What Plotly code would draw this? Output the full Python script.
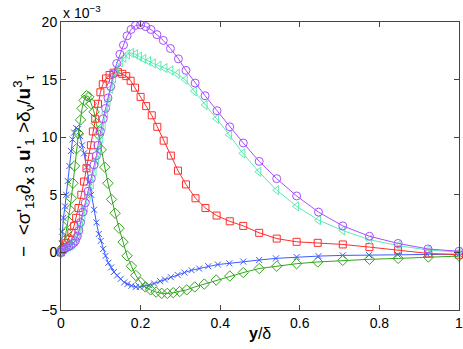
import plotly.graph_objects as go

# ---- data (values in units of 1e-3) ----
blue_x = [0, 0.003, 0.006, 0.01, 0.013, 0.017, 0.021, 0.025, 0.029, 0.033, 0.038, 0.043, 0.048, 0.053,
          0.058, 0.064, 0.07, 0.076, 0.083, 0.089, 0.095, 0.1, 0.106, 0.112, 0.119, 0.126, 0.133, 0.141,
          0.15, 0.159, 0.167, 0.177, 0.188, 0.198, 0.209, 0.221, 0.234, 0.249, 0.261, 0.276, 0.293, 0.31,
          0.328, 0.347, 0.37, 0.394, 0.423, 0.458, 0.498, 0.54, 0.592, 0.647, 0.708, 0.774, 0.846, 0.92, 1.0]
blue_y = [0, 1.8, 3.0, 4.0, 5.0, 6.2, 7.5, 8.8, 9.8, 10.4, 10.8, 10.7, 10.1, 9.3,
          8.6, 7.4, 6.1, 5.0, 3.7, 2.6, 1.6, 1.0, 0.3, -0.3, -0.9, -1.3, -1.7, -2.0,
          -2.3, -2.6, -2.75, -2.9, -3.0, -3.0, -2.95, -2.85, -2.7, -2.5, -2.35, -2.15, -1.95, -1.75,
          -1.55, -1.4, -1.2, -1.05, -0.95, -0.8, -0.66, -0.52, -0.4, -0.32, -0.26, -0.23, -0.2, -0.17, -0.15]

green_x = [0, 0.004, 0.008, 0.013, 0.018, 0.022, 0.026, 0.030, 0.034, 0.039, 0.044, 0.049, 0.053, 0.058,
           0.064, 0.070, 0.076, 0.083, 0.089, 0.095, 0.101, 0.110, 0.118, 0.127, 0.136, 0.146, 0.156,
           0.166, 0.177, 0.188, 0.2, 0.212, 0.225, 0.239, 0.253, 0.267, 0.282, 0.298, 0.316, 0.336, 0.36,
           0.39, 0.424, 0.458, 0.498, 0.542, 0.592, 0.645, 0.708, 0.775, 0.847, 0.923, 1.0]
green_y = [0, 0.4, 1.0, 1.8, 2.7, 3.7, 4.7, 6.0, 7.5, 9.0, 10.3, 11.5, 12.5, 13.2,
           13.6, 13.5, 12.9, 12.2, 11.2, 10.2, 8.9, 7.4, 6.0, 4.6, 3.4, 2.1, 0.9,
           -0.3, -1.2, -2.0, -2.6, -3.0, -3.25, -3.45, -3.55, -3.56, -3.5, -3.4, -3.25, -3.0, -2.75,
           -2.4, -2.05, -1.75, -1.4, -1.2, -0.98, -0.83, -0.69, -0.6, -0.52, -0.4, -0.32]

red_x = [0, 0.004, 0.008, 0.013, 0.019, 0.026, 0.033, 0.038, 0.044, 0.051, 0.058, 0.064, 0.07, 0.075,
         0.08, 0.086, 0.093, 0.099, 0.105, 0.113, 0.122, 0.132, 0.143, 0.154, 0.164, 0.175, 0.186, 0.2,
         0.214, 0.228, 0.242, 0.258, 0.276, 0.294, 0.314, 0.338, 0.363, 0.391, 0.424, 0.458, 0.498,
         0.542, 0.592, 0.645, 0.708, 0.775, 0.847, 0.923, 1.0]
red_y = [0, 0.2, 0.45, 0.8, 1.2, 1.7, 2.3, 3.0, 3.85, 5.0, 6.15, 7.3, 8.3, 9.3,
         10.5, 11.6, 12.9, 13.9, 14.6, 15.1, 15.4, 15.6, 15.65, 15.5, 15.3, 14.9, 14.3, 13.5,
         12.7, 11.9, 10.9, 9.7, 8.4, 7.1, 5.9, 4.7, 3.85, 3.2, 2.7, 2.3, 1.7,
         1.2, 0.92, 0.83, 0.69, 0.46, 0.2, -0.09, -0.2]

cyan_x = [0, 0.003, 0.008, 0.013, 0.019, 0.024, 0.03, 0.036, 0.041, 0.045, 0.049, 0.055, 0.061, 0.068,
          0.076, 0.083, 0.089, 0.094, 0.1, 0.106, 0.112, 0.118, 0.125, 0.132, 0.14, 0.149, 0.158, 0.167,
          0.177, 0.187, 0.197, 0.208, 0.22, 0.232, 0.246, 0.261, 0.276, 0.292, 0.312, 0.335, 0.362,
          0.391, 0.423, 0.457, 0.497, 0.542, 0.592, 0.647, 0.708, 0.775, 0.847, 0.922, 1.0]
cyan_y = [0, 0.15, 0.3, 0.4, 0.5, 0.6, 0.75, 0.95, 1.3, 1.7, 2.3, 3.1, 3.9, 4.8,
          5.9, 7.0, 8.0, 8.9, 9.9, 11.0, 12.1, 13.1, 14.2, 15.1, 15.9, 16.5, 16.9, 17.2,
          17.3, 17.2, 17.0, 16.8, 16.6, 16.4, 16.2, 16.0, 15.8, 15.5, 15.0, 14.0, 12.8,
          11.6, 10.2, 8.6, 7.0, 5.4, 4.0, 2.8, 1.9, 1.1, 0.6, 0.2, 0.03]

purple_x = [0, 0.003, 0.008, 0.013, 0.019, 0.024, 0.03, 0.036, 0.041, 0.045, 0.049, 0.055, 0.061, 0.068,
            0.076, 0.083, 0.089, 0.093, 0.099, 0.106, 0.112, 0.118, 0.125, 0.132, 0.14, 0.148, 0.157,
            0.166, 0.176, 0.187, 0.2, 0.213, 0.226, 0.241, 0.257, 0.275, 0.295, 0.314, 0.337, 0.362,
            0.392, 0.424, 0.458, 0.498, 0.542, 0.592, 0.647, 0.708, 0.775, 0.847, 0.922, 1.0]
purple_y = [0, 0.2, 0.3, 0.4, 0.5, 0.6, 0.78, 1.0, 1.4, 1.9, 2.6, 3.5, 4.3, 5.3,
            6.4, 7.6, 8.4, 9.3, 10.5, 11.6, 12.5, 13.4, 14.4, 15.5, 16.4, 17.2, 18.0,
            18.8, 19.35, 19.7, 19.75, 19.6, 19.35, 18.9, 18.4, 17.7, 16.8, 15.8, 14.7, 13.6,
            12.3, 10.9, 9.5, 7.9, 6.4, 4.9, 3.5, 2.3, 1.4, 0.78, 0.3, 0.1]

x_ticks = [0, 0.2, 0.4, 0.6, 0.8, 1]
x_tick_labels = ["0", "0.2", "0.4", "0.6", "0.8", "1"]
y_ticks = [-5, 0, 5, 10, 15, 20]
y_tick_labels = ["\u22125", "0", "5", "10", "15", "20"]

series = [
    (blue_x, blue_y, "rgb(60,90,255)", "x-thin-open", 6),
    (green_x, green_y, "rgb(50,165,30)", "diamond-open", 8),
    (red_x, red_y, "rgb(255,45,45)", "square-open", 7),
    (cyan_x, cyan_y, "rgb(90,235,180)", "triangle-left-open", 8),
    (purple_x, purple_y, "rgb(165,80,255)", "circle-open", 8),
]

fig = go.Figure()
for xs, ys, col, sym, sz in series:
    fig.add_trace(go.Scatter(
        x=xs, y=ys, mode="lines+markers",
        line=dict(color=col, width=1),
        marker=dict(symbol=sym, size=sz, color=col, line=dict(color=col, width=1)),
        cliponaxis=False, showlegend=False,
    ))

font = "Liberation Sans, Arial, Helvetica, sans-serif"
fig.update_layout(
    width=463, height=349,
    margin=dict(l=61, r=4, t=22, b=39, autoexpand=False),
    paper_bgcolor="white", plot_bgcolor="white",
    font=dict(family=font, size=14, color="black"),
)
fig.update_xaxes(
    range=[0, 1], tickvals=x_ticks, ticktext=x_tick_labels,
    ticks="inside", ticklen=5, tickcolor="#444", showline=True, linecolor="#444", linewidth=1,
    mirror="ticks", showgrid=False, zeroline=False, automargin=False, ticklabeloverflow="allow",
)
fig.update_yaxes(
    range=[-5, 20], tickvals=y_ticks, ticktext=y_tick_labels,
    ticks="inside", ticklen=5, tickcolor="#444", showline=True, linecolor="#444", linewidth=1,
    mirror="ticks", showgrid=False, zeroline=False, automargin=False, ticklabeloverflow="allow",
)
# axis titles placed as annotations
fig.add_annotation(
    x=0.5, y=0, xref="paper", yref="paper", xanchor="center", yanchor="top", yshift=-13,
    text="<b>y</b>/\u03b4", showarrow=False, font=dict(size=16),
)
fig.add_annotation(
    x=0, y=0.5, xref="paper", yref="paper", xanchor="center", yanchor="middle", xshift=-38,
    textangle=-90,
    text="\u2212  &lt;\u03c3'<sub>13</sub>\u2202<sub><b>x</b> 3</sub> <b>u</b>'<sub>1</sub> &gt;\u03b4<sub>\u03bd</sub>/<b>u</b><sup>3</sup><sub>\u03c4</sub>",
    showarrow=False, font=dict(size=19),
)
fig.add_annotation(
    x=0, y=1, xref="paper", yref="paper", xanchor="left", yanchor="bottom",
    text="x 10<sup>\u22123</sup>", showarrow=False, font=dict(size=14), yshift=-1,
)

fig.write_html("out.html", config={"displayModeBar": False},
               post_script="document.body.style.margin='0';document.body.style.overflow='hidden';")
